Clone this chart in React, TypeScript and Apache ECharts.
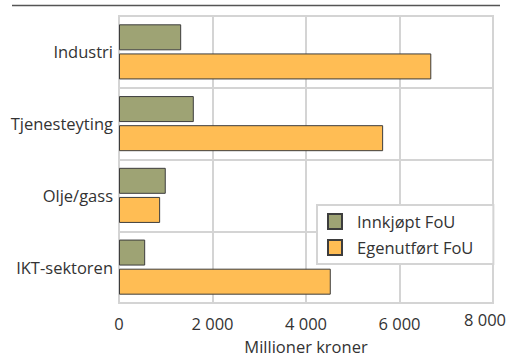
import React, { useEffect, useRef } from "react";
import * as echarts from "echarts";

const categories = ["Industri", "Tjenesteyting", "Olje/gass", "IKT-sektoren"];
const innkjopt = [1330, 1600, 1000, 560];
const egenutfort = [6680, 5650, 880, 4530];
const seriesNames = ["Innkjøpt FoU", "Egenutført FoU"];
const xTicks = [0, 2000, 4000, 6000, 8000];

const FONT = "'Open Sans', 'Noto Sans', sans-serif";
const FS = 16.5;

export default function App() {
  const ref = useRef<HTMLDivElement>(null);
  useEffect(() => {
    if (!ref.current) return;
    const chart = echarts.init(ref.current, undefined, { renderer: "svg" });
    const fmt = (v: number) => {
      const s = String(v).replace(/\B(?=(\d{3})+(?!\d))/g, " ");
      return v === xTicks[xTicks.length - 1] ? "{hi|" + s + "}" : "{lo|" + s + "}";
    };
    chart.setOption({
      animation: false,
      textStyle: { fontFamily: FONT },
      graphic: [
        {
          type: "line",
          shape: { x1: 12, y1: 5.5, x2: 500, y2: 5.5 },
          style: { stroke: "#555", lineWidth: 1.5 },
        },
      ],
      grid: {
        left: 119,
        top: 16,
        width: 374,
        height: 289,
        show: true,
        borderColor: "#d4d4d4",
        borderWidth: 2,
      },
      legend: {
        orient: "vertical",
        left: 317,
        top: 205,
        backgroundColor: "#fff",
        borderColor: "#d4d4d4",
        borderWidth: 2,
        borderRadius: 0,
        padding: [8, 20, 8, 10],
        itemWidth: 14,
        itemHeight: 15,
        itemGap: 9,
        icon: "rect",
        textStyle: { fontSize: FS, color: "#333", fontFamily: FONT, padding: [0, 0, 0, 10] },
        data: seriesNames,
      },
      xAxis: {
        type: "value",
        min: 0,
        max: 8000,
        interval: 2000,
        axisLine: { show: false },
        axisTick: { show: false },
        splitLine: { lineStyle: { color: "#d4d4d4", width: 2 } },
        axisLabel: {
          fontSize: FS,
          color: "#333",
          margin: 8,
          formatter: fmt,
          rich: {
            hi: { fontSize: FS, color: "#333", fontFamily: FONT, padding: [0, 16, 0, 0] },
            lo: { fontSize: FS, color: "#333", fontFamily: FONT, padding: [4, 0, 0, 0] },
          },
        },
        name: "Millioner kroner",
        nameLocation: "middle",
        nameGap: 35,
        nameTextStyle: { fontSize: FS, color: "#333" },
      },
      yAxis: {
        type: "category",
        data: categories,
        inverse: true,
        axisLine: { show: true, lineStyle: { color: "#d4d4d4", width: 2 } },
        axisTick: { show: false },
        splitLine: { show: true, lineStyle: { color: "#d4d4d4", width: 2 } },
        axisLabel: { fontSize: FS, color: "#333", margin: 6 },
      },
      series: [
        {
          name: seriesNames[0],
          type: "bar",
          data: innkjopt,
          barWidth: 26,
          barGap: "12%",
          itemStyle: { color: "#9ea374", borderColor: "#3d3d3d", borderWidth: 1 },
        },
        {
          name: seriesNames[1],
          type: "bar",
          data: egenutfort,
          barWidth: 26,
          barGap: "12%",
          itemStyle: { color: "#ffbd54", borderColor: "#3d3d3d", borderWidth: 1 },
        },
      ],
    });
    return () => chart.dispose();
  }, []);
  return (
    <div
      ref={ref}
      style={{ position: "fixed", left: 0, top: 0, width: 519, height: 360, background: "#fff" }}
    />
  );
}
